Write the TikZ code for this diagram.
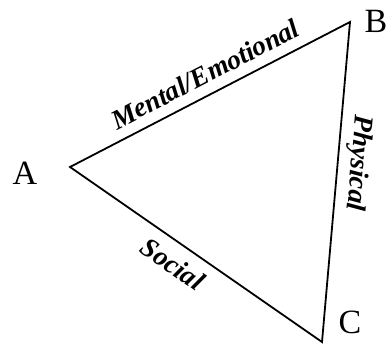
\documentclass[tikz,border=0pt]{standalone}
\usepackage{fontspec}
\setmainfont{Liberation Serif}
\begin{document}
\begin{tikzpicture}[x=1pt,y=-1pt,
  tri/.style={line width=1.8pt, black},
  vlab/.style={font=\fontsize{34}{34}\selectfont, inner sep=0pt},
  elab/.style={font=\fontsize{27.5}{27.5}\selectfont\bfseries\itshape, inner sep=0pt}]
\useasboundingbox (0,0) rectangle (388,345);
\coordinate (A) at (70,167);
\coordinate (B) at (350,22);
\coordinate (C) at (322,342);
\draw[tri] (A) -- (B) -- (C) -- cycle;
\node[vlab] (la) at (25,173) {A};
\node[vlab] (lb) at (376,21) {B};
\node[vlab] (lc) at (350,322) {C};
\node[elab, rotate=27.4] (me) at (205,74) {Mental/Emotional};
\node[elab, rotate=-95] (ph) at (358,163) {Physical};
\node[elab, rotate=-34.8] (so) at (173,264) {Social};
\end{tikzpicture}
\end{document}
